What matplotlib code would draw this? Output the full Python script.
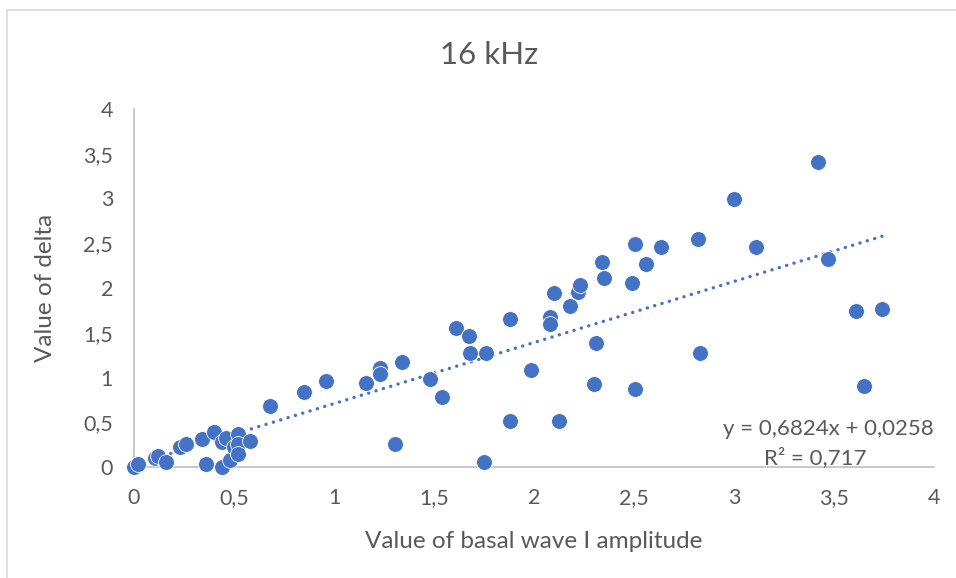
import numpy as np
import matplotlib.pyplot as plt
from matplotlib.patches import Rectangle

plt.rcParams["font.family"] = ["Lato", "DejaVu Sans"]

# basal wave I amplitude vs. delta at 16 kHz
amplitude = [
    0.00, 0.02, 0.105, 0.12, 0.16, 0.23, 0.26, 0.34, 0.36, 0.40,
    0.44, 0.44, 0.46, 0.48, 0.50, 0.52, 0.52, 0.52, 0.58, 0.68,
    0.85, 0.96, 1.16, 1.23, 1.23, 1.305, 1.34, 1.48, 1.54, 1.61,
    1.675, 1.68, 1.75, 1.76, 1.88, 1.88, 1.985, 2.08, 2.08, 2.10,
    2.125, 2.18, 2.22, 2.23, 2.30, 2.31, 2.34, 2.35, 2.49, 2.505,
    2.505, 2.56, 2.635, 2.82, 2.83, 3.00, 3.11, 3.42, 3.47, 3.61,
    3.65, 3.74,
]
delta = [
    0.00, 0.03, 0.10, 0.12, 0.06, 0.22, 0.26, 0.31, 0.03, 0.39,
    0.28, 0.00, 0.32, 0.08, 0.22, 0.37, 0.26, 0.15, 0.29, 0.68,
    0.84, 0.96, 0.94, 1.11, 1.04, 0.26, 1.17, 0.98, 0.78, 1.55,
    1.46, 1.27, 0.06, 1.27, 1.65, 0.51, 1.085, 1.68, 1.60, 1.94,
    0.51, 1.80, 1.96, 2.03, 0.93, 1.39, 2.29, 2.11, 2.06, 2.49,
    0.875, 2.27, 2.46, 2.55, 1.27, 2.99, 2.46, 3.41, 2.32, 1.74,
    0.91, 1.77,
]

slope = 0.6824
intercept = 0.0258
r_squared = 0.717

ticks = np.arange(0, 4.01, 0.5)
tick_labels = [f"{t:g}".replace(".", ",") for t in ticks]

blue = "#4472C4"
grey_text = "#595959"
axis_grey = "#BFBFBF"

fig = plt.figure(figsize=(9.56, 5.78), dpi=100)
ax = fig.add_axes([134 / 956, 111 / 578, 800 / 956, 358 / 578])

ax.scatter(amplitude, delta, s=130, color=blue, edgecolors="white",
           linewidths=0.6, zorder=3, clip_on=False)

trend_x = np.array([0, max(amplitude)])
ax.plot(trend_x, slope * trend_x + intercept, color=blue, lw=2.4,
        linestyle=(0, (0.05, 2.25)), dash_capstyle="round", zorder=2)

ax.text(4.0, 0.43, f"y = {slope:.4f}x + {intercept:.4f}".replace(".", ","),
        ha="right", va="center", fontsize=16, color=grey_text)
ax.text(3.405, 0.10, f"R² = {r_squared:.3f}".replace(".", ","),
        ha="center", va="center", fontsize=16, color=grey_text)

ax.set_xlim(0, 4)
ax.set_ylim(0, 4)
ax.set_xticks(ticks)
ax.set_xticklabels(tick_labels)
ax.set_yticks(ticks)
ax.set_yticklabels(tick_labels)
ax.tick_params(length=0, labelsize=15.5, labelcolor=grey_text)
ax.tick_params(axis="x", pad=15)
ax.tick_params(axis="y", pad=15)

for side in ("top", "right"):
    ax.spines[side].set_visible(False)
for side in ("left", "bottom"):
    ax.spines[side].set_color(axis_grey)
    ax.spines[side].set_linewidth(1.2)

ax.set_xlabel("Value of basal wave I amplitude", fontsize=17.5,
              color=grey_text, labelpad=17)
ax.set_ylabel("Value of delta", fontsize=17.5, color=grey_text, labelpad=20)
fig.text(489 / 956, 1 - 55 / 578, "16 kHz", ha="center", va="center",
         fontsize=22.5, color=grey_text)

# chart area frame
fig.patches.append(Rectangle((7 / 956, -0.1), 1.2, 1 - 10 / 578 + 0.1,
                             transform=fig.transFigure, fill=False,
                             edgecolor="#D9D9D9", lw=1.2))

fig.savefig("out.png", dpi=100)
